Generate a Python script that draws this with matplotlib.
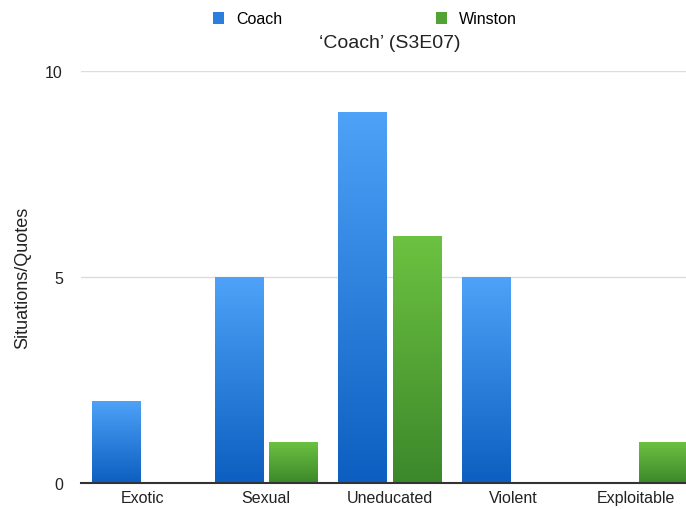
import matplotlib
matplotlib.use("Agg")
import matplotlib.pyplot as plt
import numpy as np
from matplotlib.colors import LinearSegmentedColormap
from matplotlib.patches import Patch

plt.rcParams['font.family'] = ['Liberation Sans', 'DejaVu Sans']

categories = ["Exotic", "Sexual", "Uneducated", "Violent", "Exploitable"]
coach = [2, 5, 9, 5, 0]
winston = [0, 1, 6, 0, 1]
series_names = ["Coach", "Winston"]
title = "\u2018Coach\u2019 (S3E07)"

blue_cmap = LinearSegmentedColormap.from_list("b", ["#0c5fc0", "#4ea2f7"])
green_cmap = LinearSegmentedColormap.from_list("g", ["#3b882b", "#6dc241"])

fig = plt.figure(figsize=(6.86, 5.10), dpi=100)
ax = fig.add_axes([81 / 686, 26 / 510, 617 / 686, 412 / 510])

x = np.arange(len(categories))
w = 0.389
off = 0.219
grad = np.linspace(0, 1, 256).reshape(-1, 1)


def grad_bars(xs, vals, cmap):
    bars = ax.bar(xs, vals, w, color="none", edgecolor="none", zorder=3)
    for b in bars:
        h = b.get_height()
        if h <= 0:
            continue
        x0 = b.get_x()
        im = ax.imshow(grad, cmap=cmap, aspect="auto", origin="lower",
                       extent=[x0, x0 + b.get_width(), 0, h], zorder=3)
        im.set_clip_path(b)


grad_bars(x - off, coach, blue_cmap)
grad_bars(x + off, winston, green_cmap)

ax.set_xlim(-0.5, len(categories) - 0.5)
ax.set_ylim(0, 10)
ax.set_yticks([0, 5, 10])
ax.set_xticks(x)
ax.set_xticklabels(categories)
ax.tick_params(axis="both", length=0, labelsize=11.5, colors="#222222")
ax.tick_params(axis="x", pad=5)
ax.tick_params(axis="y", pad=13)
for s in ["top", "right", "left"]:
    ax.spines[s].set_visible(False)
ax.spines["bottom"].set_color("#333333")
ax.spines["bottom"].set_linewidth(1.5)
ax.spines["bottom"].set_zorder(4)
ax.yaxis.grid(True, color="#dddddd", linewidth=1)
ax.set_axisbelow(True)
ax.set_ylabel("Situations/Quotes", fontsize=13, color="#222222", labelpad=10)

ax.set_title(title, fontsize=14, color="#222222", pad=17)

handles = [Patch(facecolor="#2a7fde"), Patch(facecolor="#52a334")]
fig.legend(handles, series_names, loc="center", bbox_to_anchor=(365 / 686, 1 - 20 / 510),
           ncol=2, frameon=False, fontsize=11.5, handlelength=0.7, handleheight=0.7,
           handletextpad=0.75, columnspacing=9.6)

fig.savefig("out.png", dpi=100)
